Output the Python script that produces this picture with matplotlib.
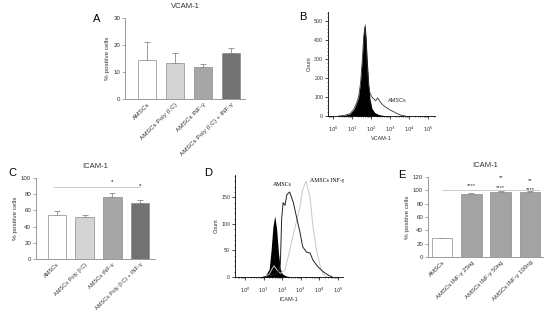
import numpy as np
import matplotlib
matplotlib.use("Agg")
import matplotlib.pyplot as plt
from matplotlib.ticker import MultipleLocator, FixedLocator

plt.rcParams['font.family'] = ['Liberation Sans', 'DejaVu Sans']

# ---------------- data ----------------
vcam_labels = ["AMSCs", "AMSCs Poly (I:C)", "AMSCs INF-γ", "AMSCs Poly (I:C) + INF-γ"]
vcam_means = [14.5, 13.3, 11.8, 17.0]
vcam_err = [6.5, 3.7, 1.0, 1.8]

icam_labels = ["AMSCs", "AMSCs Poly (I:C)", "AMSCs INF-γ", "AMSCs Poly (I:C) + INF-γ"]
icam_means = [54, 52, 77, 69]
icam_err = [5, 2, 4, 4]

dose_labels = ["AMSCs", "AMSCs INF-γ 25ng", "AMSCs INF-γ 50ng", "AMSCs INF-γ 100ng"]
dose_means = [28, 95, 98, 98]
dose_err = [0.8, 0.5, 0.5, 0.5]

# flow histograms (log10 fluorescence, count)
b_iso_x = [0.3, 0.6, 0.9, 1.1, 1.25, 1.35, 1.45, 1.55, 1.62, 1.68, 1.74, 1.8, 1.88, 1.95, 2.05, 2.2, 2.4, 2.7, 3.0]
b_iso_y = [0, 3, 12, 35, 70, 100, 180, 320, 440, 490, 420, 300, 170, 90, 40, 18, 8, 2, 0]
b_amsc_x = [0.3, 0.6, 0.9, 1.1, 1.25, 1.35, 1.45, 1.55, 1.62, 1.68, 1.74, 1.8, 1.88, 1.95, 2.05, 2.15,
            2.25, 2.35, 2.45, 2.6, 2.8, 3.0, 3.2, 3.4, 3.6, 3.8]
b_amsc_y = [0, 3, 12, 35, 70, 100, 170, 300, 420, 470, 400, 270, 160, 120, 100, 90,
            80, 95, 80, 60, 45, 32, 22, 12, 3, 0]

d_iso_x = [0.8, 1.1, 1.3, 1.4, 1.5, 1.6, 1.7, 1.8, 1.9, 2.0, 2.2, 2.5]
d_iso_y = [0, 3, 15, 50, 95, 115, 90, 45, 15, 6, 2, 0]
d_amsc_x = [1.0, 1.3, 1.6, 1.8, 1.9, 1.97, 2.05, 2.15, 2.25, 2.4, 2.5, 2.6, 2.8, 2.95, 3.1, 3.3,
            3.5, 3.65, 3.9, 4.2, 4.5, 4.7]
d_amsc_y = [0, 2, 5, 8, 25, 110, 140, 135, 155, 160, 150, 140, 108, 85, 57, 47,
            45, 32, 20, 10, 3, 0]
d_inf_x = [1.0, 1.3, 1.45, 1.56, 1.7, 1.9, 2.15, 2.4, 2.7, 2.95, 3.1, 3.28, 3.5, 3.65, 3.85, 4.05, 4.2, 4.4]
d_inf_y = [0, 5, 15, 21, 14, 7, 13, 50, 95, 132, 164, 180, 150, 95, 50, 20, 5, 0]

flow_ticks = [0, 1, 2, 3, 4, 5]

# ---------------- layout helpers ----------------
W, H = 550, 321
fig = plt.figure(figsize=(W / 100, H / 100), dpi=100)


def ax_px(l, r, b, t):
    return fig.add_axes([l / W, 1 - b / H, (r - l) / W, (b - t) / H])


def ftext(px, py, s, **kw):
    fig.text(px / W, 1 - py / H, s, **kw)


GREY = '#8a8a8a'
TXT = '#333333'


def style_bar_ax(ax, fs):
    for s in ['top', 'right']:
        ax.spines[s].set_visible(False)
    for s in ['left', 'bottom']:
        ax.spines[s].set_color(GREY)
        ax.spines[s].set_linewidth(0.6)
    ax.tick_params(axis='y', length=2, width=0.5, color=GREY, labelsize=4.4, pad=1.5,
                   labelcolor=TXT)
    ax.tick_params(axis='x', length=0, labelsize=fs, pad=2, labelcolor=TXT)


def bar_panel(ax, labels, means, errs, colors, width, xlim, ylim, ystep, title, fs):
    x = np.arange(len(means))
    ax.errorbar(x, means, yerr=[np.zeros(len(errs)), errs], fmt='none', ecolor=GREY,
                elinewidth=0.6, capsize=2, capthick=0.6, zorder=1)
    ax.bar(x, means, width=width, color=colors, edgecolor=GREY, linewidth=0.5, zorder=2)
    ax.set_xlim(*xlim)
    ax.set_ylim(*ylim)
    ax.yaxis.set_major_locator(MultipleLocator(ystep))
    ax.set_xticks(x)
    ax.set_xticklabels(labels, rotation=45, ha='right', rotation_mode='anchor')
    ax.set_ylabel('% positive cells', fontsize=4.6, labelpad=2, color=TXT)
    ax.set_title(title, fontsize=5.5, pad=7, color=TXT)
    style_bar_ax(ax, fs)


# ---------------- Panel A ----------------
axA = ax_px(125, 245, 99, 18)
bar_panel(axA, vcam_labels, vcam_means, vcam_err,
          ['white', '#d4d4d4', '#a6a6a6', '#727272'], 0.65, (-0.8, 3.5), (0, 30), 10, 'VCAM-1', 4.6)
ftext(97, 19, 'A', fontsize=8, va='center', ha='center')

# ---------------- Panel C ----------------
axC = ax_px(36, 155, 259, 178)
bar_panel(axC, icam_labels, icam_means, icam_err,
          ['white', '#d4d4d4', '#a6a6a6', '#727272'], 0.68, (-0.76, 3.54), (0, 100), 20, 'ICAM-1', 4.1)
axC.plot([-0.1, 3.0], [89, 89], color='#cccccc', lw=0.7, clip_on=False)
axC.text(2.0, 96, '*', fontsize=4.5, ha='center', va='center')
axC.text(3.0, 91, '*', fontsize=4.5, ha='center', va='center')
ftext(12, 173, 'C', fontsize=8, va='center', ha='center')

# ---------------- Panel E ----------------
axE = ax_px(428, 543, 257, 177)
bar_panel(axE, dose_labels, dose_means, dose_err,
          ['white', '#a3a3a3', '#a3a3a3', '#a3a3a3'], 0.7, (-0.48, 3.44), (0, 120), 20, 'ICAM-1', 4.3)
axE.plot([0.0, 3.3], [100.5, 100.5], color='#cccccc', lw=0.7, clip_on=False)
star_kw = dict(fontsize=4.2, ha='center', va='center', clip_on=False, color=TXT)
axE.text(1.0, 107, '****', **star_kw)
axE.text(2.0, 104, '****', **star_kw)
axE.text(2.0, 119, '**', **star_kw)
axE.text(3.0, 101.5, '****', **star_kw)
axE.text(3.0, 115, '**', **star_kw)
ftext(402, 175, 'E', fontsize=8, va='center', ha='center')


# ---------------- flow panels ----------------
def flow_style(ax, xlim, ylim, ymajor, yminor, xlabel):
    ax.set_xscale('log')
    ax.set_xlim(10 ** xlim[0], 10 ** xlim[1])
    ax.set_ylim(*ylim)
    for s in ['top', 'right']:
        ax.spines[s].set_visible(False)
    for s in ['left', 'bottom']:
        ax.spines[s].set_linewidth(0.6)
    ax.xaxis.set_major_locator(FixedLocator([10.0 ** t for t in flow_ticks]))
    ax.set_xticklabels([r'$10^{%d}$' % t for t in flow_ticks])
    ax.yaxis.set_major_locator(MultipleLocator(ymajor))
    ax.yaxis.set_minor_locator(MultipleLocator(yminor))
    ax.tick_params(axis='both', which='major', length=2, width=0.5, labelsize=3.8, pad=1.5,
                   labelcolor=TXT)
    ax.tick_params(axis='both', which='minor', length=1, width=0.4)
    ax.tick_params(axis='x', which='major', pad=4)
    ax.set_xlabel(xlabel, fontsize=4, labelpad=2, color=TXT)
    ax.set_ylabel('Count', fontsize=4, labelpad=2, color=TXT)


# Panel B
axB = ax_px(328, 435, 116, 12)
axB.fill_between(10 ** np.array(b_iso_x), 0, b_iso_y, color='black', lw=0)
axB.plot(10 ** np.array(b_amsc_x), b_amsc_y, color='#333333', lw=0.6)
flow_style(axB, (-0.26, 5.37), (0, 547), 100, 20, 'VCAM-1')
ftext(397, 100, 'AMSCs', fontsize=4, ha='center', va='center', color=TXT)
ftext(303, 17, 'B', fontsize=8, va='center', ha='center')

# Panel D
axD = ax_px(235, 343, 277, 175)
axD.fill_between(10 ** np.array(d_iso_x), 0, d_iso_y, color='black', lw=0)
axD.plot(10 ** np.array(d_inf_x), d_inf_y, color='#c8c8c8', lw=0.7)
axD.plot(10 ** np.array(d_amsc_x), d_amsc_y, color='#222222', lw=0.7)
flow_style(axD, (-0.54, 5.27), (0, 192), 50, 10, 'ICAM-1')
ftext(282, 185, 'AMSCs', fontsize=4.2, ha='center', va='center',
      family=['Liberation Serif', 'DejaVu Serif'])
ftext(327, 181, 'AMSCs INF-γ', fontsize=4.2, ha='center', va='center',
      family=['Liberation Serif', 'DejaVu Serif'])
ftext(208, 173, 'D', fontsize=8, va='center', ha='center')

fig.savefig('out.png', dpi=100, facecolor='white')
